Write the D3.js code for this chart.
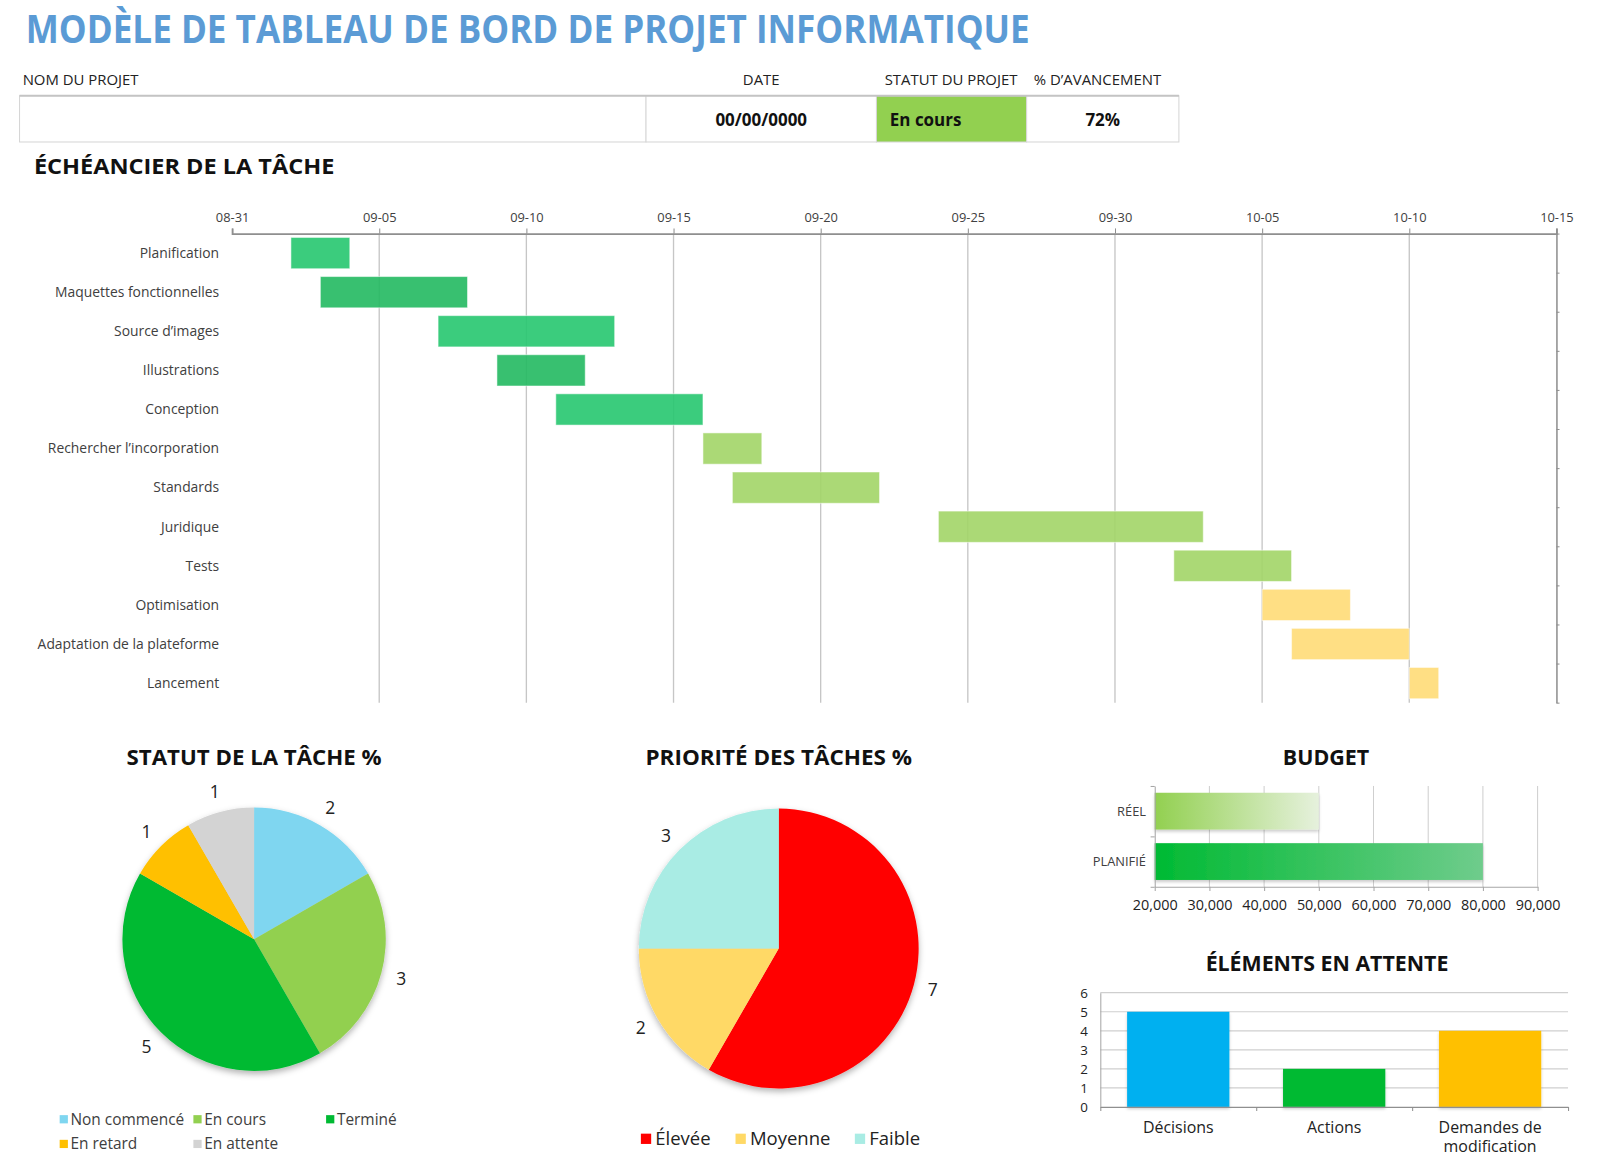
<meta charset="utf-8">
<title>Tableau de bord de projet informatique</title>
<script src="https://d3js.org/d3.v7.min.js"></script>
<style>
  body { margin: 0; background: #fff; }
  svg { display: block; font-family: "Open Sans", "Liberation Sans", sans-serif; }
</style>
<body>
<svg id="board" width="1613" height="1170" viewBox="0 0 1568 1137.3"></svg>
<script>

  // header
  const
    titleText = 'MODÈLE DE TABLEAU DE BORD DE PROJET INFORMATIQUE',
    headerLabels = ['NOM DU PROJET', 'DATE', 'STATUT DU PROJET', '% D’AVANCEMENT'],
    headerValues = ['', '00/00/0000', 'En cours', '72%']

  // timeline
  const
    tasks = ['Planification', 'Maquettes fonctionnelles', 'Source d’images', 'Illustrations',
      'Conception', 'Rechercher l’incorporation', 'Standards', 'Juridique', 'Tests',
      'Optimisation', 'Adaptation de la plateforme', 'Lancement'],
    taskStart = ['09-02', '09-03', '09-07', '09-09', '09-11', '09-16', '09-17', '09-24', '10-02', '10-05', '10-06', '10-10'],
    taskEnd = ['09-04', '09-08', '09-13', '09-12', '09-16', '09-18', '09-22', '10-03', '10-06', '10-08', '10-10', '10-11'],
    timeRange = ['08-31', '10-15']

  // pies
  const
    statusLabels = ['Non commencé', 'En cours', 'Terminé', 'En retard', 'En attente'],
    statusValues = [2, 3, 5, 1, 1],
    priorityLabels = ['Élevée', 'Moyenne', 'Faible'],
    priorityValues = [7, 2, 3]

  // budget + pending
  const
    budgetLabels = ['RÉEL', 'PLANIFIÉ'],
    budgetValues = [50000, 80000],
    budgetTicks = [20000, 30000, 40000, 50000, 60000, 70000, 80000, 90000],
    pendingLabels = ['Décisions', 'Actions', 'Demandes de modification'],
    pendingValues = [5, 2, 4]

  // styles (bar fills are a bit darker because they are drawn at 0.9 opacity)
  const
    taskColors = ['#26c76f', '#22b960', '#26c76f', '#22b960', '#26c76f',
      '#a2d567', '#a2d567', '#a2d567', '#a2d567', '#ffdc77', '#ffdc77', '#ffdc77'],
    statusColors = ['#7fd6f0', '#92d050', '#00ba33', '#ffc000', '#d3d3d3'],
    priorityColors = ['#ff0000', '#ffd966', '#a9ece4'],
    pendingColors = ['#00b0f0', '#00ba33', '#ffc000'],
    textCol = '#404040',
    gridCol = '#cfcfcf'

  const svg = d3.select('#board')
  const defs = svg.append('defs')

  const shadow = defs.append('filter').attr('id', 'shadow')
    .attr('x', '-20%').attr('y', '-20%').attr('width', '140%').attr('height', '140%')
  shadow.append('feDropShadow').attr('dx', 0).attr('dy', 3).attr('stdDeviation', 3)
    .attr('flood-color', '#000').attr('flood-opacity', 0.3)

  const barShadow = defs.append('filter').attr('id', 'barShadow')
    .attr('x', '-5%').attr('y', '-30%').attr('width', '110%').attr('height', '160%')
  barShadow.append('feDropShadow').attr('dx', 0).attr('dy', 2).attr('stdDeviation', 1.5)
    .attr('flood-color', '#000').attr('flood-opacity', 0.2)

  const grad = (id, from, to) => {
    const g = defs.append('linearGradient').attr('id', id)
      .attr('x1', '0%').attr('x2', '100%').attr('y1', '0%').attr('y2', '0%')
    g.append('stop').attr('offset', '0%').attr('stop-color', from)
    g.append('stop').attr('offset', '100%').attr('stop-color', to)
  }
  grad('gReel', '#92d050', '#e6f1dd')
  grad('gPlan', '#00ba33', '#6fcc8c')

  const heading = (txt, x, y, len, size = 21.5) =>
    svg.append('text')
      .attr('x', x).attr('y', y)
      .attr('text-anchor', 'middle')
      .attr('font-weight', 700).attr('font-size', size)
      .attr('fill', '#111')
      .attr('textLength', len).attr('lengthAdjust', 'spacingAndGlyphs')
      .text(txt)

  // ---------- header ----------
  svg.append('text')
    .attr('x', 25).attr('y', 42)
    .attr('font-weight', 700).attr('font-size', 38)
    .attr('fill', '#5b9bd5')
    .attr('textLength', 976).attr('lengthAdjust', 'spacingAndGlyphs')
    .text(titleText)

  const cells = [[19, 628], [628, 852], [852, 998], [998, 1146]]
  const labelPos = [[22, 'start'], [740, 'middle'], [860, 'start'], [1005, 'start']]
  const valuePos = [[0, 'start'], [740, 'middle'], [865, 'start'], [1072, 'middle']]

  svg.selectAll('.hlab').data(headerLabels).join('text')
    .attr('x', (d, i) => labelPos[i][0]).attr('y', 82.5)
    .attr('text-anchor', (d, i) => labelPos[i][1])
    .attr('font-size', 14.5).attr('fill', '#222')
    .text(d => d)

  svg.selectAll('.hcell').data(cells).join('rect')
    .attr('x', d => d[0]).attr('y', 93)
    .attr('width', d => d[1] - d[0]).attr('height', 45)
    .attr('fill', (d, i) => i === 2 ? '#92d050' : '#fff')
    .attr('stroke', '#d6d6d6').attr('stroke-width', 1)
  svg.append('line').attr('x1', 19).attr('x2', 1146).attr('y1', 93).attr('y2', 93)
    .attr('stroke', '#c4c4c4').attr('stroke-width', 2)

  svg.selectAll('.hval').data(headerValues).join('text')
    .attr('x', (d, i) => valuePos[i][0]).attr('y', 122)
    .attr('text-anchor', (d, i) => valuePos[i][1])
    .attr('font-size', 16.5).attr('font-weight', 700).attr('fill', '#111')
    .text(d => d)

  svg.append('text')
    .attr('x', 33).attr('y', 169)
    .attr('font-weight', 700).attr('font-size', 21.5).attr('fill', '#111')
    .attr('textLength', 292).attr('lengthAdjust', 'spacingAndGlyphs')
    .text('ÉCHÉANCIER DE LA TÂCHE')

  // ---------- timeline ----------
  const parseDay = s => d3.timeParse('%Y-%m-%d')('2023-' + s)
  const gTop = 227, gBottom = 683, gLeft = 225.6, gRight = 1513

  const x = d3.scaleTime()
    .domain(timeRange.map(parseDay))
    .range([gLeft, gRight])

  const y = d3.scaleBand()
    .domain(tasks)
    .range([gTop, gBottom])
    .paddingInner(0.2).paddingOuter(0.1)

  const tickDays = d3.timeDay.range(parseDay(timeRange[0]), d3.timeDay.offset(parseDay(timeRange[1]), 1), 5)

  const gantt = svg.append('g')

  gantt.selectAll('.grid').data(tickDays.slice(1, -1)).join('line')
    .attr('x1', d => x(d)).attr('x2', d => x(d))
    .attr('y1', gTop).attr('y2', gBottom)
    .attr('stroke', '#c6c6c6').attr('stroke-width', 1.3)

  gantt.selectAll('.bar').data(tasks).join('rect')
    .attr('x', (d, i) => x(parseDay(taskStart[i])))
    .attr('y', d => y(d))
    .attr('width', (d, i) => x(parseDay(taskEnd[i])) - x(parseDay(taskStart[i])))
    .attr('height', y.bandwidth())
    .attr('fill', (d, i) => taskColors[i])
    .attr('fill-opacity', 0.9)
    .attr('stroke', '#fff').attr('stroke-opacity', 0.5).attr('stroke-width', 1)

  const xAxis = gantt.append('g')
    .attr('transform', `translate(0,${gTop})`)
    .call(d3.axisTop(x).tickValues(tickDays).tickFormat(d3.timeFormat('%m-%d')).tickSize(5).tickPadding(6))
  xAxis.select('.domain').attr('stroke', '#8f8f8f').attr('stroke-width', 1.8)
  xAxis.selectAll('.tick line').attr('stroke', '#8f8f8f')
  xAxis.selectAll('text').attr('font-size', 12.5).attr('fill', textCol)
    .attr('font-family', '"Open Sans", sans-serif')

  const yRight = gantt.append('g')
    .attr('transform', `translate(${gRight},0)`)
    .call(d3.axisRight(d3.scaleLinear().domain([0, tasks.length]).range([gTop, gBottom]))
      .ticks(tasks.length).tickFormat('').tickSize(3).tickSizeOuter(0))
  yRight.select('.domain').attr('stroke', '#8f8f8f').attr('stroke-width', 1.5)
  yRight.selectAll('.tick line').attr('stroke', '#8f8f8f')

  gantt.selectAll('.tlab').data(tasks).join('text')
    .attr('x', 213)
    .attr('y', d => y(d) + y.bandwidth() / 2)
    .attr('dy', '0.35em')
    .attr('text-anchor', 'end')
    .attr('font-size', 13.5).attr('fill', textCol)
    .text(d => d)

  // ---------- pies ----------
  const drawPie = (values, colors, cx, cy, r, labelR) => {
    const arcs = d3.pie().sort(null)(values)
    const arc = d3.arc().innerRadius(0).outerRadius(r)
    const lab = d3.arc().innerRadius(labelR).outerRadius(labelR)
    const g = svg.append('g').attr('transform', `translate(${cx},${cy})`)
    g.append('g').attr('filter', 'url(#shadow)')
      .selectAll('path').data(arcs).join('path')
      .attr('d', arc)
      .attr('fill', (d, i) => colors[i])
    g.selectAll('text').data(arcs).join('text')
      .attr('transform', d => `translate(${lab.centroid(d)})`)
      .attr('dy', '0.35em').attr('text-anchor', 'middle')
      .attr('font-size', 17).attr('fill', '#222')
      .text(d => d.data)
  }

  heading('STATUT DE LA TÂCHE %', 247, 744, 248)
  drawPie(statusValues, statusColors, 247, 913, 128, 148)

  const statusLegendPos = [[58, 1088], [188, 1088], [317, 1088], [58, 1112], [188, 1112]]
  const sLeg = svg.selectAll('.sleg').data(statusLabels).join('g')
    .attr('transform', (d, i) => `translate(${statusLegendPos[i][0]},${statusLegendPos[i][1]})`)
  sLeg.append('rect').attr('x', 0).attr('y', -4).attr('width', 8).attr('height', 8)
    .attr('fill', (d, i) => statusColors[i])
  sLeg.append('text').attr('x', 10.5).attr('dy', '0.35em')
    .attr('font-size', 15).attr('fill', textCol).text(d => d)

  heading('PRIORITÉ DES TÂCHES %', 757, 744, 259)
  drawPie(priorityValues, priorityColors, 757, 922, 136, 155)

  const priorityLegendX = [623, 715, 831]
  const pLeg = svg.selectAll('.pleg').data(priorityLabels).join('g')
    .attr('transform', (d, i) => `translate(${priorityLegendX[i]},1107)`)
  pLeg.append('rect').attr('x', 0).attr('y', -5).attr('width', 10).attr('height', 10)
    .attr('fill', (d, i) => priorityColors[i])
  pLeg.append('text').attr('x', 14).attr('dy', '0.35em')
    .attr('font-size', 18).attr('fill', '#222').text(d => d)

  // ---------- budget ----------
  heading('BUDGET', 1289, 744, 84)

  const bx = d3.scaleLinear().domain([20000, 90000]).range([1122.5, 1494.7])
  const by = d3.scaleBand().domain(budgetLabels).range([764, 862]).paddingInner(0.27).paddingOuter(0.135)

  svg.selectAll('.bgrid').data(budgetTicks.slice(1)).join('line')
    .attr('x1', d => bx(d)).attr('x2', d => bx(d))
    .attr('y1', 764).attr('y2', 862)
    .attr('stroke', gridCol)

  svg.selectAll('.bbar').data(budgetLabels).join('rect')
    .attr('x', bx(20000))
    .attr('y', d => by(d))
    .attr('width', (d, i) => bx(budgetValues[i]) - bx(20000))
    .attr('height', by.bandwidth())
    .attr('fill', (d, i) => i === 0 ? 'url(#gReel)' : 'url(#gPlan)')
    .attr('filter', 'url(#barShadow)')

  const bxAxis = svg.append('g').attr('transform', 'translate(0,862)')
    .call(d3.axisBottom(bx).tickValues(budgetTicks).tickFormat(d3.format(',')).tickSize(4).tickSizeOuter(0).tickPadding(9))
  bxAxis.select('.domain').attr('stroke', '#a6a6a6')
  bxAxis.selectAll('.tick line').attr('stroke', '#a6a6a6')
  bxAxis.selectAll('text').attr('font-size', 14).attr('fill', '#222')
    .attr('font-family', '"Open Sans", sans-serif')

  const byAxis = svg.append('g').attr('transform', 'translate(1122.5,0)')
    .call(d3.axisLeft(d3.scaleLinear().domain([0, 2]).range([764, 862])).ticks(2).tickFormat('').tickSize(4).tickSizeOuter(0))
  byAxis.select('.domain').attr('stroke', '#a6a6a6')
  byAxis.selectAll('.tick line').attr('stroke', '#a6a6a6')

  svg.selectAll('.blab').data(budgetLabels).join('text')
    .attr('x', 1114)
    .attr('y', d => by(d) + by.bandwidth() / 2)
    .attr('dy', '0.35em').attr('text-anchor', 'end')
    .attr('font-size', 12.5).attr('fill', textCol)
    .text(d => d)

  // ---------- pending items ----------
  heading('ÉLÉMENTS EN ATTENTE', 1290, 943.5, 236)

  const px = d3.scaleBand().domain(pendingLabels).range([1069.6, 1524.3]).paddingInner(0.344).paddingOuter(0.172)
  const py = d3.scaleLinear().domain([0, 6]).range([1076, 965])

  svg.selectAll('.pgrid').data(py.ticks(6).slice(1)).join('line')
    .attr('x1', 1069.6).attr('x2', 1524.3)
    .attr('y1', d => py(d)).attr('y2', d => py(d))
    .attr('stroke', gridCol).attr('stroke-width', 1.2)

  svg.selectAll('.pbar').data(pendingLabels).join('rect')
    .attr('x', d => px(d))
    .attr('y', (d, i) => py(pendingValues[i]))
    .attr('width', px.bandwidth())
    .attr('height', (d, i) => py(0) - py(pendingValues[i]))
    .attr('fill', (d, i) => pendingColors[i])
    .attr('filter', 'url(#barShadow)')

  const pyAxis = svg.append('g').attr('transform', 'translate(1069.6,0)')
    .call(d3.axisLeft(py).ticks(6).tickSize(0).tickPadding(12))
  pyAxis.select('.domain').attr('stroke', '#a6a6a6')
  pyAxis.selectAll('text').attr('font-size', 13).attr('fill', '#222')
    .attr('font-family', '"Open Sans", sans-serif')

  const pxAxis = svg.append('g').attr('transform', 'translate(0,1076)')
    .call(d3.axisBottom(d3.scaleLinear().domain([0, 3]).range([1069.6, 1524.3])).ticks(3).tickFormat('').tickSize(4).tickSizeOuter(0))
  pxAxis.select('.domain').attr('stroke', '#8f8f8f').attr('stroke-width', 1.3)
  pxAxis.selectAll('.tick line').attr('stroke', '#8f8f8f')

  // category labels, wrapped like the original
  const wrapLabel = s => s === 'Demandes de modification' ? ['Demandes de', 'modification'] : [s]
  svg.selectAll('.plab').data(pendingLabels).join('text')
    .attr('x', d => px(d) + px.bandwidth() / 2)
    .attr('y', 1101)
    .attr('text-anchor', 'middle')
    .attr('font-size', 15.5).attr('fill', '#222')
    .selectAll('tspan').data(d => wrapLabel(d)).join('tspan')
    .attr('x', function () { return this.parentNode.getAttribute('x') })
    .attr('dy', (d, i) => i ? 18.5 : 0)
    .text(d => d)

</script>
</body>
